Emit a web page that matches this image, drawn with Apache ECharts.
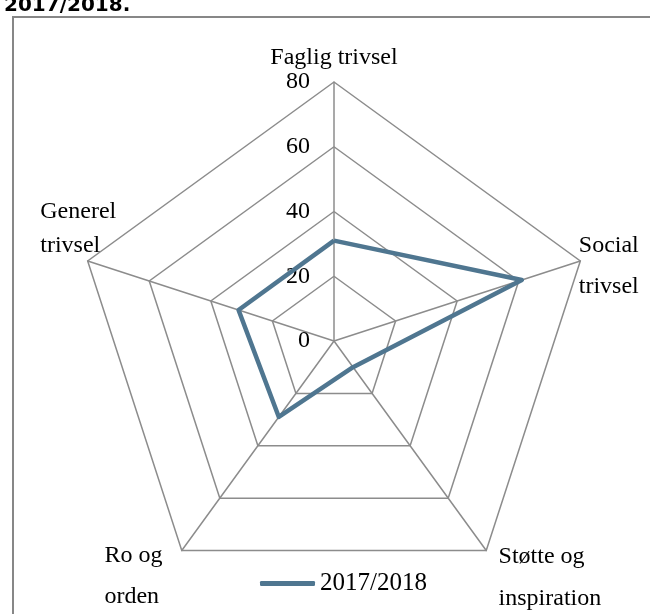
<!DOCTYPE html>
<html>
<head>
<meta charset="utf-8">
<script src="https://cdn.jsdelivr.net/npm/echarts@6/dist/echarts.min.js"></script>
<style>
  html, body { margin: 0; padding: 0; background: #fff; }
  #main { width: 650px; height: 614px; }
</style>
</head>
<body>
<div id="main"></div>
<script>
// data (clockwise from top)
var indicatorNames = ['Faglig trivsel', 'Social trivsel', 'Støtte og inspiration', 'Ro og orden', 'Generel trivsel'];
var seriesName = '2017/2018';
var values = [31, 61, 10, 29, 31];
var axisMax = 80;
var axisSplit = 4;

// label text per indicator (rich styles do the placement)
var nameText = {
    'Faglig trivsel': '{g4| }\n{t|Faglig trivsel}',
    'Social trivsel': '{s|Social}\n{s|trivsel}\n{g8| }',
    'Støtte og inspiration': '{g102| }\n{st|Støtte og}\n{st|inspiration}',
    'Ro og orden': '{g100| }\n{r|Ro og}\n{r|orden}',
    'Generel trivsel': '{ge|Generel}\n{ge|trivsel}\n{g84| }'
};

var serif = '"Liberation Serif", "DejaVu Serif", serif';
var gridColor = '#8c8c8c';

var myChart = echarts.init(document.getElementById('main'));

// echarts lays indicators out counter-clockwise, so feed them reversed after the first
var order = [0];
for (var k = indicatorNames.length - 1; k > 0; k--) order.push(k);

var indicators = [];
var radarValues = [];
for (var i = 0; i < order.length; i++) {
    var ind = { name: indicatorNames[order[i]], min: 0, max: axisMax };
    if (i === 0) {
        ind.axisLabel = { show: true };
    }
    indicators.push(ind);
    radarValues.push(values[order[i]]);
}

var option = {
    backgroundColor: '#fff',
    animation: false,
    title: {
        text: '2017/2018.',
        left: -1,
        top: -9,
        textStyle: { fontFamily: 'DejaVu Sans', fontWeight: 'bold', fontSize: 20, color: '#000' }
    },
    graphic: [{
        type: 'rect',
        shape: { x: 13, y: 17, width: 700, height: 700 },
        style: { fill: 'none', stroke: '#878787', lineWidth: 2 },
        z: -1
    }],
    legend: {
        left: 255,
        top: 566,
        icon: 'roundRect',
        itemWidth: 55,
        itemHeight: 5,
        textStyle: { fontFamily: serif, fontSize: 25, color: '#000' },
        data: [seriesName]
    },
    radar: {
        center: [334, 341],
        radius: 259,
        startAngle: 90,
        shape: 'polygon',
        splitNumber: axisSplit,
        nameGap: -30,
        axisName: {
            color: '#000',
            fontFamily: serif,
            fontSize: 24,
            formatter: function (name) {
                return nameText[name] || name;
            },
            rich: {
                t: { fontFamily: serif, fontSize: 24, lineHeight: 26, color: '#000' },
                s: { fontFamily: serif, fontSize: 24, lineHeight: 41, color: '#000', align: 'left', padding: [0, 0, 0, 27] },
                st: { fontFamily: serif, fontSize: 24, lineHeight: 42, color: '#000', align: 'left', padding: [0, 0, 0, 30] },
                r: { fontFamily: serif, fontSize: 24, lineHeight: 41, color: '#000', align: 'left', padding: [0, 37, 0, 0] },
                ge: { fontFamily: serif, fontSize: 24, lineHeight: 34, color: '#000', align: 'left' },
                g4: { fontSize: 2, lineHeight: 4 },
                g8: { fontSize: 2, lineHeight: 8 },
                g84: { fontSize: 2, lineHeight: 84 },
                g100: { fontSize: 2, lineHeight: 100 },
                g102: { fontSize: 2, lineHeight: 102 }
            }
        },
        axisLine: { lineStyle: { color: gridColor, width: 1.5 } },
        splitLine: { lineStyle: { color: gridColor, width: 1.5 } },
        splitArea: { show: false },
        axisTick: { show: false },
        axisLabel: {
            show: false,
            margin: 24,
            color: '#000',
            fontFamily: serif,
            fontSize: 24
        },
        indicator: indicators
    },
    series: [{
        name: seriesName,
        type: 'radar',
        symbol: 'none',
        lineStyle: { color: '#4f7690', width: 4.5 },
        itemStyle: { color: '#4f7690' },
        data: [{ name: seriesName, value: radarValues }]
    }]
};

myChart.setOption(option);
</script>
</body>
</html>
